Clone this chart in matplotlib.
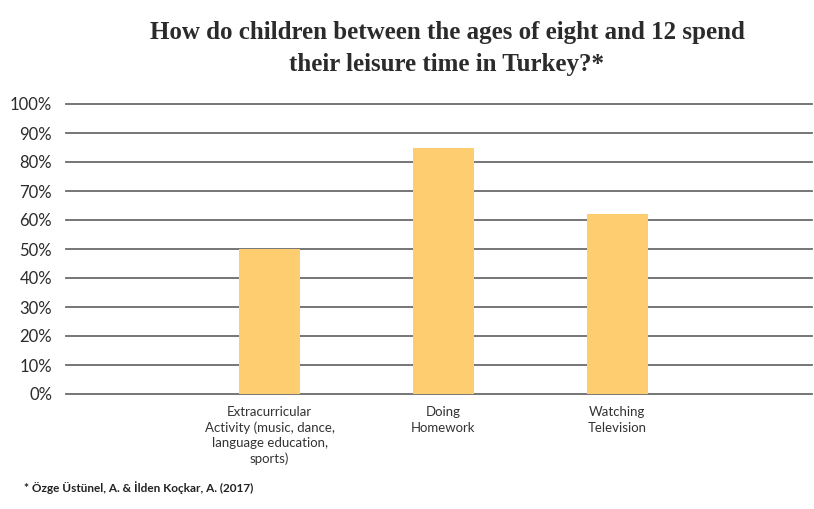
import matplotlib
matplotlib.use("Agg")
import matplotlib.pyplot as plt

categories = ["Extracurricular\nActivity (music, dance,\nlanguage education,\nsports)",
              "Doing\nHomework", "Watching\nTelevision"]
values = [50, 85, 62]
yticks = [0, 10, 20, 30, 40, 50, 60, 70, 80, 90, 100]
ytick_labels = [f"{v}%" for v in yticks]

title = "How do children between the ages of eight and 12 spend\ntheir leisure time in Turkey?*"
footnote = "* Özge Üstünel, A. & İlden Koçkar, A. (2017)"

fig = plt.figure(figsize=(8.14, 5.09), dpi=100)
ax = fig.add_axes([66/814, 1-394/509, (812-66)/814, (394-104)/509])

x = list(range(len(categories)))
for yv in yticks:
    ax.axhline(yv, color="#6b6b6b", lw=1.3, zorder=1, clip_on=False)
ax.bar(x, values, width=0.35, color="#FDCD6F", zorder=2)

ax.set_ylim(0, 100)
ax.set_xlim(-204/174, 2 + 195/174)
ax.set_yticks(yticks)
ax.set_yticklabels(ytick_labels, fontfamily="Lato", fontsize=12, color="#2b2b2b")
ax.tick_params(axis="y", length=0, pad=10)
ax.set_xticks([])
for s in ax.spines.values():
    s.set_visible(False)

for xi, lab in zip(x, categories):
    ax.annotate(lab, xy=(xi, 0), xycoords=("data", "axes fraction"),
                xytext=(0, -9), textcoords="offset points",
                ha="center", va="top", fontfamily="Lato", fontsize=9.5,
                color="#333333", linespacing=1.3)

fig.text(447/814, 1-21/509, title, ha="center", va="top", fontfamily="Liberation Serif",
         fontweight="bold", fontsize=18, color="#2b2b2b", linespacing=1.5)
fig.text(24/814, 1-488/509, footnote, ha="left", va="center", fontfamily="Lato",
         fontweight="bold", fontsize=8.5, color="#222222")

fig.savefig("out.png", dpi=100)
